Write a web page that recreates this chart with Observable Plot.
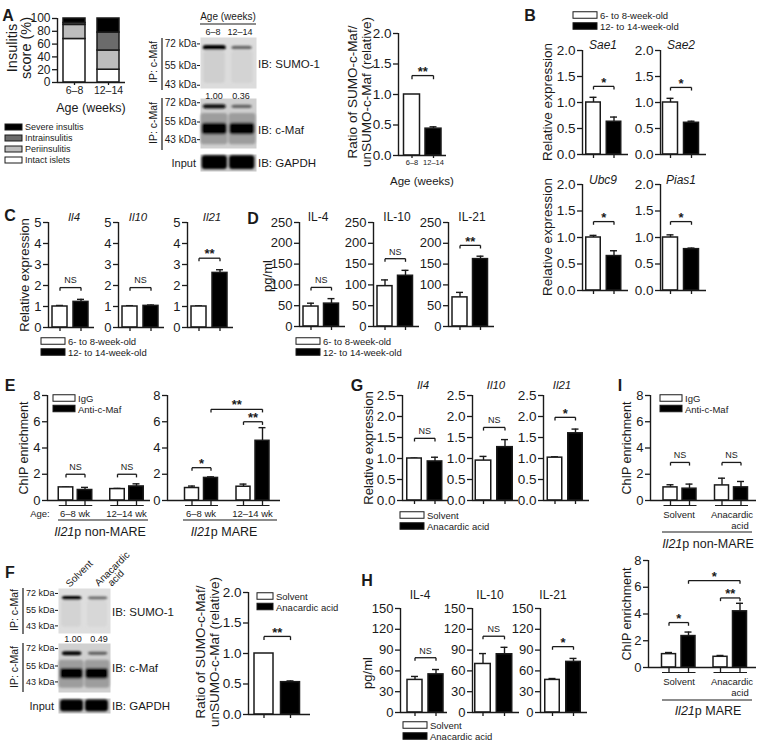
<!DOCTYPE html>
<html><head><meta charset="utf-8">
<script src="https://cdn.jsdelivr.net/npm/d3@7"></script>
<script src="https://cdn.jsdelivr.net/npm/@observablehq/plot@0.6"></script>
<style>
body{margin:0;background:#fff}
#fig{position:relative;width:766px;height:747px;overflow:hidden;font-family:"Liberation Sans",Arial,Helvetica,sans-serif}
</style></head><body><div id="fig"></div>
<script>
// ================= DATA =================
// Panel A
const ageGroups = ["6–8", "12–14"];
const insulitisCategories = ["Intact islets", "Periinsulitis", "Intrainsulitis", "Severe insultis"];
const insulitisYoung = [68, 22, 3, 7];
const insulitisOld = [20, 30, 28, 22];
const sumoRatioA = [1.00, 0.44];
const sumoRatioAErr = [0, 0.03];
const sumoRatioASig = ["**"];
const sumoRatioASigY = [1.31];
const bandQuantA = ["1.00", "0.36"];
const sumoBandA = [1.0, 0.55];
const cmafBandA = [0.95, 0.55];
// Panel B
const sumoGenes = ["Sae1", "Sae2", "Ubc9", "Pias1"];
const sumoYoung = [1.00, 1.00, 1.00, 1.00];
const sumoYoungErr = [0.10, 0.08, 0.04, 0.05];
const sumoOld = [0.63, 0.61, 0.65, 0.78];
const sumoOldErr = [0.09, 0.03, 0.10, 0.02];
const sumoSig = ["*", "*", "*", "*"];
const sumoSigY = [1.31, 1.29, 1.30, 1.30];
const ageLegend = ["6- to 8-week-old", "12- to 14-week-old"];
// Panel C
const cytoGenes = ["Il4", "Il10", "Il21"];
const cYoung = [1.00, 1.00, 1.00];
const cYoungErr = [0.05, 0.04, 0.03];
const cOld = [1.22, 1.03, 2.60];
const cOldErr = [0.12, 0.04, 0.15];
const cSig = ["NS", "NS", "**"];
const cSigY = [1.9, 1.9, 3.3];
// Panel D
const cytokines = ["IL-4", "IL-10", "IL-21"];
const dYoung = [48, 97, 70];
const dYoungErr = [8, 15, 12];
const dOld = [55, 122, 162];
const dOldErr = [12, 13, 7];
const dSig = ["NS", "NS", "**"];
const dSigY = [94, 163, 195];
// Panel E
const chipAges = ["6–8 wk", "12–14 wk"];
const chipLegend = ["IgG", "Anti-c-Maf"];
const eNonIgG = [1.00, 0.87], eNonIgGErr = [0.02, 0.05];
const eNonAnti = [0.80, 1.07], eNonAntiErr = [0.20, 0.20];
const eMareIgG = [0.95, 1.05], eMareIgGErr = [0.15, 0.20];
const eMareAnti = [1.72, 4.55], eMareAntiErr = [0.08, 1.00];
// Panel F
const treatments = ["Solvent", "Anacardic acid"];
const fRatio = [1.00, 0.53];
const fRatioErr = [0, 0.02];
const bandQuantF = ["1.00", "0.49"];
const sumoBandF = [1.0, 0.55];
const cmafBandF = [1.0, 0.6];
// Panel G
const gSolvent = [1.00, 0.95, 1.02], gSolventErr = [0.01, 0.10, 0.02];
const gAna = [0.93, 1.27, 1.60], gAnaErr = [0.10, 0.18, 0.10];
const gSig = ["NS", "NS", "*"];
const gSigY = [1.48, 1.74, 1.98];
// Panel H
const hSolvent = [47, 70, 47], hSolventErr = [5, 15, 2];
const hAna = [55, 84, 73], hAnaErr = [7, 10, 5];
const hSig = ["NS", "NS", "*"];
const hSigY = [79, 110, 95];
// Panel I
const iNonIgG = [1.00, 1.15], iNonIgGErr = [0.20, 0.55];
const iNonAnti = [0.90, 1.00], iNonAntiErr = [0.35, 0.45];
const iMareIgG = [1.00, 0.80], iMareIgGErr = [0.12, 0.10];
const iMareAnti = [2.35, 4.20], iMareAntiErr = [0.30, 0.60];

// ================= HELPERS =================
const FONT = '"Liberation Sans", Arial, Helvetica, sans-serif';
const INK = "#1a1a1a";
const fig = document.getElementById("fig");
function mount(svg, left, top) {
  svg.style.position = "absolute";
  svg.style.left = left + "px";
  svg.style.top = top + "px";
  svg.style.background = "transparent";
  svg.style.overflow = "visible";
  svg.style.maxWidth = "none";
  fig.appendChild(svg);
}
function barPanel(c) {
  const mL = 40, mR = 6, mT = 40, mB = 24;
  const W = c.xEnd - c.axisX, H = c.yBase - c.yTop;
  const u = c.step;
  const pos = d => (c.off + (d.g || 0) * (c.gstep || 0) + d.s * c.step) / u;
  const hw = c.barW / 2 / u, cap = (c.cap ?? 7) / 2 / u, tl = c.yMax * 0.03;
  const bars = c.bars, eb = bars.filter(d => d.e > 0), br = c.brackets || [];
  const ends = br.flatMap(d => [d.a, d.b].map(p => ({x: pos(p), y: d.y})));
  const labelMap = new Map(bars.map(d => [pos(d), d.label || ""]));
  const groups = c.gstep ? [...new Set(bars.map(d => d.g))] : [];
  const gy = -5 / H * c.yMax;
  const sw = 1.4;
  const fs = c.fs || 13;
  const svg = Plot.plot({
    width: mL + W + mR, height: mT + H + mB,
    marginLeft: mL, marginRight: mR, marginTop: mT, marginBottom: mB,
    x: {domain: [0, W / u]},
    y: {domain: [0, c.yMax]},
    style: {fontFamily: FONT, fontSize: fs + "px", color: INK, background: "transparent", overflow: "visible"},
    marks: [
      Plot.ruleX(eb, {x: pos, y1: d => d.v, y2: d => d.v + d.e, stroke: INK, strokeWidth: sw}),
      Plot.ruleY(eb, {y: d => d.v + d.e, x1: d => pos(d) - cap, x2: d => pos(d) + cap, stroke: INK, strokeWidth: sw}),
      Plot.rect(bars, {x1: d => pos(d) - hw, x2: d => pos(d) + hw, y1: d => d.y0 || 0, y2: d => d.v, fill: d => d.fill, stroke: INK, strokeWidth: 1.5}),
      Plot.ruleY([0], {stroke: INK, strokeWidth: sw}),
      Plot.ruleX([0], {stroke: INK, strokeWidth: sw}),
      Plot.axisY({ticks: c.ticks, label: null, tickSize: 5, tickPadding: 2, tickFormat: c.fmt || (d => d), fontSize: fs, strokeWidth: 1.3}),
      Plot.axisX({ticks: [...labelMap.keys()], label: null, tickSize: c.xts ?? (c.gstep ? 5 : 4), tickPadding: c.xtp ?? 2, tickFormat: d => labelMap.get(d), fontSize: c.xfs || 10, strokeWidth: 1.3}),
      Plot.link(groups, {x1: g => pos({g, s: 0}) - hw, x2: g => pos({g, s: 1}) + hw, y1: gy, y2: gy, stroke: INK, strokeWidth: 1.2}),
      Plot.link(br, {x1: d => pos(d.a), x2: d => pos(d.b), y1: "y", y2: "y", stroke: INK, strokeWidth: 1.3}),
      Plot.link(ends, {x1: "x", x2: "x", y1: "y", y2: d => d.y - tl, stroke: INK, strokeWidth: 1.3}),
      Plot.text(br.filter(d => d.label === "NS"), {x: d => (pos(d.a) + pos(d.b)) / 2, y: "y", text: "label", dy: -7, fontSize: 9}),
      Plot.text(br.filter(d => d.label !== "NS"), {x: d => (pos(d.a) + pos(d.b)) / 2, y: "y", text: "label", dy: -4, fontSize: 13, fontWeight: "bold"})
    ]
  });
  mount(svg, c.axisX - mL, c.yTop - mT);
}
const pairBars = (a, ae, b, be, i) => [
  {s: 0, v: a[i], e: ae[i], fill: "white"},
  {s: 1, v: b[i], e: be[i], fill: "black"}
];
const pairBracket = (sig, sigY, i) => [{a: {s: 0}, b: {s: 1}, y: sigY[i], label: sig[i]}];
const groupBars = (a, ae, b, be) => [0, 1].flatMap(g => [
  {g, s: 0, v: a[g], e: ae[g], fill: "white"},
  {g, s: 1, v: b[g], e: be[g], fill: "black"}
]);

let blotId = 0;
function blot(c) {
  const mL = 55, mR = 2, mT = 2, mB = 2;
  const id = "blur" + (blotId++);
  const svg = Plot.plot({
    width: mL + (c.x1 - c.x0) + mR, height: mT + (c.y1 - c.y0) + mB,
    marginLeft: mL, marginRight: mR, marginTop: mT, marginBottom: mB,
    x: {domain: [0, 2], axis: null},
    y: c.ticks ? {type: "log", domain: [c.kBot, c.kTop]} : {domain: [0, 1], axis: null},
    style: {fontFamily: FONT, fontSize: (c.fs || 10) + "px", color: INK, background: "transparent", overflow: "visible"},
    marks: [
      Plot.frame({fill: c.bg, stroke: "none"}),
      Plot.rect(c.bands, {x1: d => d.lane + (d.inL ?? 0.12), x2: d => d.lane + 1 - (d.inR ?? 0.12), y1: "k1", y2: "k2",
        fill: d => d3.interpolateRgb(c.bg, "#050505")(d.dark), rx: 3}),
      ...(c.ticks ? [Plot.axisY({ticks: c.ticks, label: null, tickFormat: d => `${d} kDa`, tickSize: 3, tickPadding: 1, fontSize: c.fs || 10})] : [])
    ]
  });
  const ns = "http://www.w3.org/2000/svg";
  const defs = document.createElementNS(ns, "defs");
  defs.innerHTML = `<filter id="${id}" x="-20%" y="-50%" width="140%" height="200%"><feGaussianBlur stdDeviation="1.2"/></filter>`;
  svg.prepend(defs);
  svg.querySelectorAll('g[aria-label="rect"]').forEach(g => g.setAttribute("filter", `url(#${id})`));
  mount(svg, c.x0 - mL, c.y0 - mT);
}

// ================= PANEL A =================
{
  const bars = [];
  [insulitisYoung, insulitisOld].forEach((vals, s) => {
    const cum = d3.cumsum(vals);
    const shades = ["white", "#bdbdbd", "#6b6b6b", "black"];
    vals.forEach((v, k) => bars.push({s, y0: cum[k] - v, v: cum[k], e: 0, fill: shades[k], label: ageGroups[s]}));
  });
  barPanel({axisX: 57, xEnd: 125, yTop: 18, yBase: 82, yMax: 100, ticks: d3.range(0, 101, 20),
    off: 17, step: 34, barW: 22, bars, xfs: 10.5, xts: 3, xtp: 1, fs: 12});
}
barPanel({axisX: 398, xEnd: 446, yTop: 33, yBase: 155, yMax: 2, ticks: [0, 0.5, 1, 1.5, 2], fmt: d3.format(".1f"),
  off: 13.5, step: 21.5, barW: 16, xfs: 7.5, fs: 13.5, xts: 3, xtp: 1,
  bars: [0, 1].map(s => ({s, v: sumoRatioA[s], e: sumoRatioAErr[s], fill: s ? "black" : "white", label: ageGroups[s]})),
  brackets: [{a: {s: 0}, b: {s: 1}, y: sumoRatioASigY[0], label: sumoRatioASig[0]}]});
// blots A
blot({x0: 200, x1: 256, y0: 37, y1: 88, kTop: 78, kBot: 41.3, ticks: [72, 55, 43], bg: "#dcdcdc",
  bands: [
    {lane: 0, k1: 44, k2: 66, dark: 0.06}, {lane: 1, k1: 44, k2: 66, dark: 0.04},
    {lane: 0, k1: 66.5, k2: 70.5, dark: sumoBandA[0], inL: 0.1, inR: 0.08},
    {lane: 1, k1: 67, k2: 70, dark: sumoBandA[1], inL: 0.12, inR: 0.15}
  ]});
blot({x0: 200, x1: 256, y0: 98, y1: 148, kTop: 76.4, kBot: 38, ticks: [72, 55, 43], bg: "#cfcfcf",
  bands: [
    {lane: 0, k1: 40, k2: 62, dark: 0.25, inL: 0.02, inR: 0.02}, {lane: 1, k1: 40, k2: 62, dark: 0.25, inL: 0.02, inR: 0.02},
    {lane: 0, k1: 66, k2: 70, dark: cmafBandA[0], inL: 0.1, inR: 0.08},
    {lane: 1, k1: 66.5, k2: 69.5, dark: cmafBandA[1], inL: 0.12, inR: 0.15},
    {lane: 0, k1: 46, k2: 54, dark: 1.0, inL: 0.06, inR: 0.05},
    {lane: 1, k1: 46, k2: 54, dark: 1.0, inL: 0.05, inR: 0.06}
  ]});
blot({x0: 200, x1: 256, y0: 154, y1: 171, bg: "#c8c8c8",
  bands: [{lane: 0, k1: 0.12, k2: 0.92, dark: 1, inL: 0.06, inR: 0.04}, {lane: 1, k1: 0.12, k2: 0.92, dark: 1, inL: 0.04, inR: 0.06}]});

// ================= PANEL B =================
[[582, 50, 154, 0, 11, 20.5, 14.5], [660, 50, 154, 1, 10, 21, 15], [582, 184, 290, 2, 11, 20.5, 14.5], [660, 184, 290, 3, 10, 21, 15]]
  .forEach(([ax, yt, yb, i, off, step, barW]) => barPanel({axisX: ax, xEnd: ax + 46, yTop: yt, yBase: yb, yMax: 2,
    ticks: [0, 0.5, 1, 1.5, 2], fmt: d3.format(".1f"), off, step, barW, fs: 13.5,
    bars: pairBars(sumoYoung, sumoYoungErr, sumoOld, sumoOldErr, i), brackets: pairBracket(sumoSig, sumoSigY, i)}));

// ================= PANEL C =================
[48, 118, 187].forEach((ax, i) => barPanel({axisX: ax, xEnd: ax + 46, yTop: 222, yBase: 327, yMax: 5,
  ticks: d3.range(0, 6), off: 11.5, step: 21, barW: 15,
  bars: pairBars(cYoung, cYoungErr, cOld, cOldErr, i), brackets: pairBracket(cSig, cSigY, i)}));

// ================= PANEL D =================
[299, 373, 448].forEach((ax, i) => barPanel({axisX: ax, xEnd: ax + 46, yTop: 222, yBase: 326, yMax: 250,
  ticks: d3.range(0, 251, 50), off: 11.5, step: 20.5, barW: 15,
  bars: pairBars(dYoung, dYoungErr, dOld, dOldErr, i), brackets: pairBracket(dSig, dSigY, i)}));

// ================= PANEL E =================
barPanel({axisX: 47, xEnd: 150, yTop: 395, yBase: 500, yMax: 8, ticks: d3.range(0, 9, 2),
  off: 18.5, step: 19, gstep: 51.5, barW: 14.5,
  bars: groupBars(eNonIgG, eNonIgGErr, eNonAnti, eNonAntiErr),
  brackets: [0, 1].map(g => ({a: {g, s: 0}, b: {g, s: 1}, y: 2.0, label: "NS"}))});
barPanel({axisX: 167, xEnd: 280, yTop: 395, yBase: 500, yMax: 8, ticks: d3.range(0, 9, 2),
  off: 24.5, step: 19, gstep: 51.5, barW: 14,
  bars: groupBars(eMareIgG, eMareIgGErr, eMareAnti, eMareAntiErr),
  brackets: [{a: {g: 0, s: 0}, b: {g: 0, s: 1}, y: 2.5, label: "*"},
             {a: {g: 1, s: 0}, b: {g: 1, s: 1}, y: 6.0, label: "**"},
             {a: {g: 0, s: 1}, b: {g: 1, s: 1}, y: 6.95, label: "**"}]});

// ================= PANEL F =================
barPanel({axisX: 248, xEnd: 310, yTop: 592, yBase: 714, yMax: 2, ticks: [0, 0.5, 1, 1.5, 2], fmt: d3.format(".1f"),
  off: 15.5, step: 26.5, barW: 19, fs: 13.5,
  bars: [0, 1].map(s => ({s, v: fRatio[s], e: fRatioErr[s], fill: s ? "black" : "white"})),
  brackets: [{a: {s: 0}, b: {s: 1}, y: 1.28, label: "**"}]});
blot({x0: 58, x1: 110, y0: 588, y1: 633, kTop: 77.9, kBot: 38.1, ticks: [72, 55, 43], bg: "#dedede", fs: 9,
  bands: [
    {lane: 0, k1: 42, k2: 64, dark: 0.05}, {lane: 1, k1: 42, k2: 64, dark: 0.03},
    {lane: 0, k1: 64.5, k2: 68.5, dark: sumoBandF[0], inL: 0.15, inR: 0.1},
    {lane: 1, k1: 65, k2: 68, dark: sumoBandF[1], inL: 0.15, inR: 0.1}
  ]});
blot({x0: 58, x1: 110, y0: 643, y1: 692, kTop: 77.9, kBot: 36.5, ticks: [72, 55, 43], bg: "#d0d0d0", fs: 9,
  bands: [
    {lane: 0, k1: 39, k2: 60, dark: 0.25, inL: 0.02, inR: 0.02}, {lane: 1, k1: 39, k2: 60, dark: 0.25, inL: 0.02, inR: 0.02},
    {lane: 0, k1: 64.5, k2: 68.5, dark: cmafBandF[0], inL: 0.15, inR: 0.1},
    {lane: 1, k1: 65, k2: 68, dark: cmafBandF[1], inL: 0.15, inR: 0.1},
    {lane: 0, k1: 45, k2: 53, dark: 1.0, inL: 0.08, inR: 0.05},
    {lane: 1, k1: 45, k2: 53, dark: 1.0, inL: 0.05, inR: 0.08}
  ]});
blot({x0: 58, x1: 110, y0: 698, y1: 713, bg: "#c8c8c8",
  bands: [{lane: 0, k1: 0.12, k2: 0.9, dark: 1, inL: 0.08, inR: 0.04}, {lane: 1, k1: 0.12, k2: 0.9, dark: 1, inL: 0.04, inR: 0.08}]});

// ================= PANEL G =================
[[402, 12, 20.5, 14.5], [472, 11, 21.5, 15.5], [543, 11.5, 20.5, 14.5]].forEach(([ax, off, step, barW], i) =>
  barPanel({axisX: ax, xEnd: ax + 46, yTop: 395, yBase: 500, yMax: 2.5, ticks: [0, 0.5, 1, 1.5, 2, 2.5], fmt: d3.format(".1f"),
    off, step, barW, fs: 13.5, bars: pairBars(gSolvent, gSolventErr, gAna, gAnaErr, i), brackets: pairBracket(gSig, gSigY, i)}));

// ================= PANEL H =================
[[400, 14.5, 21, 15], [472, 10.5, 21.5, 15.5], [540, 12, 21, 14.5]].forEach(([ax, off, step, barW], i) =>
  barPanel({axisX: ax, xEnd: ax + 47, yTop: 608, yBase: 712, yMax: 150, ticks: d3.range(0, 151, 30),
    off, step, barW, bars: pairBars(hSolvent, hSolventErr, hAna, hAnaErr, i), brackets: pairBracket(hSig, hSigY, i)}));

// ================= PANEL I =================
barPanel({axisX: 650, xEnd: 756, yTop: 395, yBase: 500, yMax: 8, ticks: d3.range(0, 9, 2),
  off: 20, step: 19, gstep: 51.5, barW: 14,
  bars: groupBars(iNonIgG, iNonIgGErr, iNonAnti, iNonAntiErr),
  brackets: [0, 1].map(g => ({a: {g, s: 0}, b: {g, s: 1}, y: 2.9, label: "NS"}))});
barPanel({axisX: 648, xEnd: 756, yTop: 560, yBase: 667, yMax: 8, ticks: d3.range(0, 9, 2),
  off: 20.5, step: 19.5, gstep: 51.5, barW: 14,
  bars: groupBars(iMareIgG, iMareIgGErr, iMareAnti, iMareAntiErr),
  brackets: [{a: {g: 0, s: 0}, b: {g: 0, s: 1}, y: 3.36, label: "*"},
             {a: {g: 1, s: 0}, b: {g: 1, s: 1}, y: 5.2, label: "**"},
             {a: {g: 0, s: 1}, b: {g: 1, s: 1}, y: 6.5, label: "*"}]});

// ================= OVERLAY TEXT =================
const ov = d3.select(fig).append("svg").attr("width", 766).attr("height", 747)
  .style("position", "absolute").style("left", "0px").style("top", "0px")
  .attr("font-family", FONT).attr("fill", INK);
function T(x, y, s, o = {}) {
  const t = ov.append("text").attr("x", x).attr("y", y).attr("font-size", o.fs || 12)
    .attr("text-anchor", o.a || "middle").attr("dominant-baseline", "central");
  if (o.b) t.attr("font-weight", "bold");
  if (o.r != null) t.attr("transform", `rotate(${o.r},${x},${y})`);
  const parts = Array.isArray(s) ? s : [[s, !!o.i]];
  parts.forEach(([str, it]) => t.append("tspan").attr("font-style", it ? "italic" : "normal").text(str));
  return t;
}
function L(x1, y1, x2, y2, w = 1.2) {
  ov.append("line").attr("x1", x1).attr("y1", y1).attr("x2", x2).attr("y2", y2).attr("stroke", INK).attr("stroke-width", w);
}
function legend(x, y, labels, fills, o = {}) {
  const w = o.w || 24, h = o.h || 6.5, gap = o.gap || 11;
  labels.forEach((lab, k) => {
    ov.append("rect").attr("x", x).attr("y", y + k * gap - h / 2).attr("width", w).attr("height", h)
      .attr("fill", fills[k]).attr("stroke", INK).attr("stroke-width", 1);
    T(x + w + 3, y + k * gap, lab, {a: "start", fs: o.fs || 9.5});
  });
}
// panel letters
[["A", 8, 15], ["B", 530, 15], ["C", 10, 215], ["D", 253, 218], ["E", 10, 385], ["F", 10, 572],
 ["G", 357, 385], ["H", 367, 580], ["I", 620, 385]].forEach(([s, x, y]) => T(x, y, s, {fs: 16, b: true}));

// A
T(12, 48, "Insulitis", {r: -90, fs: 14.5});
T(26, 48, "score (%)", {r: -90, fs: 14.5});
T(91, 108, "Age (weeks)", {fs: 12.5});
legend(5, 127, [...insulitisCategories].reverse(), ["black", "#6b6b6b", "#bdbdbd", "white"], {w: 17, h: 6, gap: 11, fs: 9});
T(228, 16, "Age (weeks)", {fs: 10});
L(200, 24, 256, 24);
T(213, 32, ageGroups[0], {fs: 9}); T(240, 32, ageGroups[1], {fs: 9});
T(214, 96, bandQuantA[0], {fs: 9}); T(241, 96, bandQuantA[1], {fs: 9});
T(258, 64, "IB: SUMO-1", {a: "start", fs: 11.5});
T(258, 130, "IB: c-Maf", {a: "start", fs: 11.5});
T(258, 163, "IB: GAPDH", {a: "start", fs: 11.5});
T(196, 163, "Input", {a: "end", fs: 11});
T(153, 62, "IP: c-Maf", {r: -90, fs: 10.5});
T(153, 123, "IP: c-Maf", {r: -90, fs: 10.5});
L(162, 38, 162, 90); L(162, 98, 162, 150);
T(352, 92, "Ratio of SUMO-c-Maf/", {r: -90, fs: 13.5});
T(366, 92, "unSUMO-c-Maf (relative)", {r: -90, fs: 13.5});
T(422, 181, "Age (weeks)", {fs: 11.5});

// B
legend(573, 15, ageLegend, ["white", "black"]);
T(547, 102, "Relative expression", {r: -90, fs: 13.5});
T(547, 237, "Relative expression", {r: -90, fs: 13.5});
[[603, 45], [681, 45], [603, 180], [681, 180]].forEach(([x, y], i) => T(x, y, sumoGenes[i], {i: true, fs: 12}));

// C
T(24, 275, "Relative expression", {r: -90, fs: 13});
[74, 138, 212].forEach((x, i) => T(x, 217, cytoGenes[i], {i: true, fs: 11.5}));
legend(41, 341, ageLegend, ["white", "black"]);

// D
T(267, 276, "pg/ml", {r: -90, fs: 13});
[318, 397, 472].forEach((x, i) => T(x, 217, cytokines[i], {fs: 12}));
legend(296, 341, ageLegend, ["white", "black"]);

// E
T(24, 448, "ChIP enrichment", {r: -90, fs: 12.5});
legend(53, 398, chipLegend, ["white", "black"], {w: 22, gap: 10.5});
T(40, 513, "Age:", {fs: 9.5});
[[75, 126.5], [201, 252.5]].forEach(xs => xs.forEach((x, k) => T(x, 513, chipAges[k], {fs: 9.5})));
L(58, 520, 148, 520); L(183, 520, 277, 520);
T(100, 532, [["Il21", true], ["p non-MARE", false]], {fs: 12.5});
T(224, 532, [["Il21", true], ["p MARE", false]], {fs: 12.5});

// F
T(67, 585, "Solvent", {a: "start", r: -45, fs: 10});
T(96, 584, "Anacardic", {a: "start", r: -45, fs: 10});
T(109, 584, "acid", {a: "start", r: -45, fs: 10});
T(73, 639, bandQuantF[0], {fs: 9}); T(99, 639, bandQuantF[1], {fs: 9});
T(112, 612, "IB: SUMO-1", {a: "start", fs: 11.5});
T(112, 668, "IB: c-Maf", {a: "start", fs: 11.5});
T(112, 706, "IB: GAPDH", {a: "start", fs: 11.5});
T(54, 706, "Input", {a: "end", fs: 11});
T(14, 610, "IP: c-Maf", {r: -90, fs: 10.5});
T(14, 667, "IP: c-Maf", {r: -90, fs: 10.5});
L(23, 588, 23, 634); L(23, 643, 23, 692);
T(200, 652, "Ratio of SUMO-c-Maf/", {r: -90, fs: 13.5});
T(214, 652, "unSUMO-c-Maf (relative)", {r: -90, fs: 13.5});
legend(257, 596, treatments, ["white", "black"], {w: 16, gap: 10.5});

// G
T(368, 448, "Relative expression", {r: -90, fs: 13});
[423, 496, 562].forEach((x, i) => T(x, 385, cytoGenes[i], {i: true, fs: 11.5}));
legend(400, 515, treatments, ["white", "black"]);

// H
T(367, 673, "pg/ml", {r: -90, fs: 13});
[420, 490, 553].forEach((x, i) => T(x, 595, cytokines[i], {fs: 12}));
legend(403, 725, treatments, ["white", "black"]);

// I
T(627, 448, "ChIP enrichment", {r: -90, fs: 12.5});
T(627, 614, "ChIP enrichment", {r: -90, fs: 12.5});
legend(660, 398, chipLegend, ["white", "black"], {w: 22, gap: 10.5});
[[514, 525, 532, 544, "p non-MARE"], [681, 692, 700, 711, "p MARE"]].forEach(([y1, y2, ly, ty, suf]) => {
  T(679, y1, treatments[0], {fs: 9.5});
  T(732, y1, "Anacardic", {fs: 9.5});
  T(740, y2, "acid", {fs: 9.5});
  L(662, ly, 752, ly);
  T(708, ty, [["Il21", true], [suf, false]], {fs: 12.5});
});
</script></body></html>
